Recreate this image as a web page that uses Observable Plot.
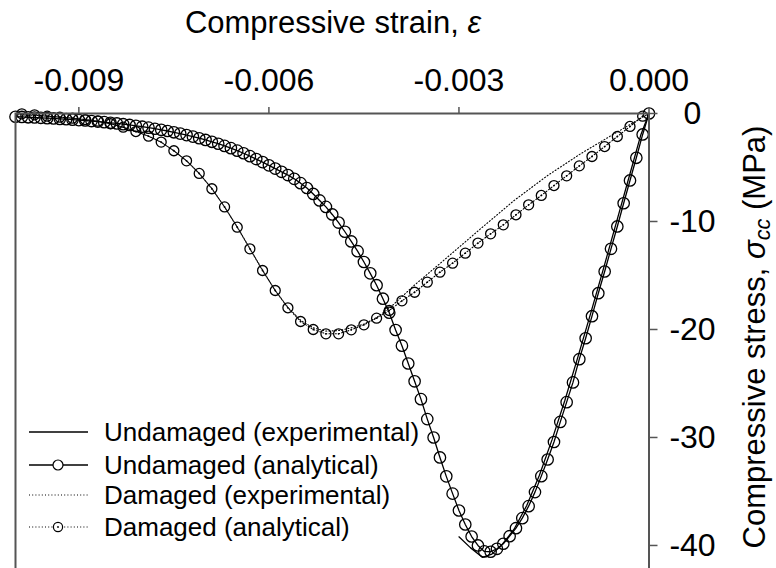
<!DOCTYPE html>
<html><head><meta charset="utf-8">
<script src="https://cdn.jsdelivr.net/npm/d3@7"></script>
<script src="https://cdn.jsdelivr.net/npm/@observablehq/plot@0.6"></script>
<style>html,body{margin:0;padding:0;overflow:hidden;background:#fff;width:776px;height:568px}</style>
</head><body><div id="chart"></div>
<script>
// strain values in units of 1e-4
const undAnaStrain = [0,-1,-2,-3,-4,-5,-6,-7,-8,-9,-10,-11,-12,-13,-14,-15,-16,-17,-18,-19,-20,-21,-22,-23,-24,-25,-26,-27,-28,-29,-30,-31,-32,-33,-34,-35,-36,-37,-38,-39,-40,-41,-42,-43,-44,-45,-46,-47,-48,-49,-50,-51,-52,-53,-54,-55,-56,-57,-58,-59,-60,-61,-62,-63,-64,-65,-66,-67,-68,-69,-70,-71,-72,-73,-74,-75,-76,-77,-78,-79,-80,-81,-82,-83,-84,-85,-86,-87,-88,-89,-90,-91,-92,-93,-94,-95,-96,-97,-98,-99,-100];
const undAnaStress = [0,-1.94,-4.10,-6.20,-8.31,-10.46,-12.53,-14.63,-16.64,-18.77,-20.81,-22.75,-24.90,-26.73,-28.56,-30.42,-32.04,-33.58,-35.06,-36.36,-37.47,-38.40,-39.14,-39.84,-40.31,-40.58,-40.55,-40.00,-39.17,-38.06,-36.76,-35.20,-33.60,-31.85,-30.00,-28.30,-26.45,-24.80,-23.15,-21.50,-20.05,-18.45,-17.15,-15.90,-14.80,-13.75,-12.75,-11.85,-10.95,-10.10,-9.35,-8.65,-8.05,-7.45,-6.90,-6.45,-6.05,-5.70,-5.40,-5.10,-4.80,-4.50,-4.22,-3.95,-3.68,-3.44,-3.21,-3.00,-2.80,-2.62,-2.45,-2.29,-2.14,-2.00,-1.86,-1.74,-1.62,-1.51,-1.41,-1.31,-1.22,-1.14,-1.06,-0.99,-0.92,-0.86,-0.80,-0.75,-0.70,-0.65,-0.61,-0.57,-0.53,-0.50,-0.46,-0.43,-0.40,-0.37,-0.35,-0.32,-0.30];

const undExpStrain = [0,-1.3,-3.3,-5.3,-7.3,-9.3,-11.3,-13.3,-15.3,-17.3,-19.3,-21.3,-23.3,-24.8,-26.3,-28.2,-30.0];
const undExpStress = [0,-2.0,-6.2,-10.4,-14.6,-18.7,-22.7,-26.6,-30.2,-33.5,-36.3,-38.5,-40.0,-40.8,-41.1,-40.2,-39.2];

const damAnaStrain = [-1,-3,-5,-7,-9,-11,-13,-15,-17,-19,-21,-23,-25,-27,-29,-31,-33,-35,-37,-39,-41,-43,-45,-47,-49,-51,-53,-55,-57,-59,-61,-63,-65,-67,-69,-71,-73,-75,-77,-79,-81,-83,-85,-87,-89,-91,-93,-95,-97,-99];
const damAnaStress = [-0.25,-1.20,-2.13,-3.06,-3.98,-4.85,-5.77,-6.67,-7.59,-8.46,-9.38,-10.31,-11.14,-12.00,-12.93,-13.86,-14.69,-15.62,-16.55,-17.35,-18.24,-18.95,-19.57,-20.03,-20.40,-20.40,-20.00,-19.26,-17.99,-16.39,-14.54,-12.53,-10.53,-8.65,-6.97,-5.55,-4.38,-3.45,-2.65,-2.10,-1.67,-1.27,-0.95,-0.71,-0.56,-0.43,-0.34,-0.25,-0.12,-0.03];

const damExpStrain = [0,-5.5,-10.8,-16.0,-21.3,-26.6,-31.8,-37.1,-40.8,-43,-45,-47,-49,-51,-53,-55,-57,-59,-61,-63,-65,-67,-69,-71,-73,-75,-77,-79,-81,-83,-85,-88,-92,-96,-100];
const damExpStress = [0,-1.88,-3.73,-5.74,-8.06,-10.68,-13.30,-15.93,-17.94,-18.90,-19.50,-19.85,-20.10,-20.15,-19.85,-19.15,-17.95,-16.40,-14.50,-12.50,-10.50,-8.65,-6.95,-5.55,-4.38,-3.45,-2.67,-2.10,-1.65,-1.27,-0.95,-0.62,-0.38,-0.20,-0.10];

const xTicks = [-0.009,-0.006,-0.003,0];
const yTicks = [0,-10,-20,-30,-40];
const legendLabels = ["Undamaged (experimental)","Undamaged (analytical)","Damaged (experimental)","Damaged (analytical)"];

const toRows = (xs, ys) => xs.map((x, i) => ({strain: x * 1e-4, stress: ys[i]}));
const undAna = toRows(undAnaStrain, undAnaStress);
const undExp = toRows(undExpStrain, undExpStress);
const damAna = toRows(damAnaStrain, damAnaStress);
const damExp = toRows(damExpStrain, damExpStress);

const FONT = "'Liberation Sans', Arial, Helvetica, sans-serif";

const plot = Plot.plot({
  width: 776, height: 600,
  marginLeft: 15, marginRight: 127.5, marginTop: 113, marginBottom: 10,
  style: {fontFamily: FONT, background: "white", overflow: "visible"},
  x: {domain: [-0.010, 0]},
  y: {domain: [-44.17, 0]},
  marks: [
    Plot.line(undExp, {x: "strain", y: "stress", stroke: "black", strokeWidth: 1.3}),
    Plot.line(undAna, {x: "strain", y: "stress", stroke: "black", strokeWidth: 1.3}),
    Plot.dot(undAna, {x: "strain", y: "stress", r: 5.7, stroke: "black", strokeWidth: 1.3, fill: "none"}),
    Plot.line(damExp, {x: "strain", y: "stress", stroke: "black", strokeWidth: 1.1, strokeDasharray: "1,2.2"}),
    Plot.line(damAna, {x: "strain", y: "stress", stroke: "black", strokeWidth: 1.1, strokeDasharray: "1,2.2"}),
    Plot.dot(damAna, {x: "strain", y: "stress", r: 5, stroke: "black", strokeWidth: 1.3, fill: "none"}),
    Plot.dot(damAna, {x: "strain", y: "stress", r: 0.9, fill: "black", stroke: "none"}),
    Plot.frame({stroke: "#555", strokeWidth: 2}),
    Plot.axisX({anchor: "top", ticks: xTicks, tickFormat: d => d.toFixed(3), tickSize: 7, tickPadding: 16, fontSize: 32, stroke: "#555", strokeWidth: 1.5, fill: "black", label: null}),
    Plot.axisY({anchor: "right", ticks: yTicks, tickFormat: d => String(d), tickSize: 8, tickPadding: 35.5, textAnchor: "middle", fontSize: 32, stroke: "#555", strokeWidth: 1.5, fill: "black", label: null})
  ]
});
document.getElementById("chart").appendChild(plot);

const svg = d3.select(plot);
// top axis title
const t1 = svg.append("text").attr("x", 333).attr("y", 33).attr("text-anchor", "middle")
  .attr("font-size", 31).attr("font-family", FONT).attr("fill", "black");
t1.append("tspan").text("Compressive strain, ");
t1.append("tspan").attr("font-style", "italic").text("ε");

// right axis title
const t2 = svg.append("text").attr("transform", "translate(765,337) rotate(-90)").attr("text-anchor", "middle")
  .attr("font-size", 31).attr("font-family", FONT).attr("fill", "black");
t2.append("tspan").text("Compressive stress, ");
t2.append("tspan").attr("font-style", "italic").text("σ");
t2.append("tspan").attr("font-style", "italic").attr("font-size", "0.7em").attr("dy", "0.25em").text("cc");
t2.append("tspan").attr("dy", "-0.175em").text(" (MPa)");

// legend
const rowsY = [432, 465, 495, 527];
const lg = svg.append("g").attr("font-family", FONT).attr("font-size", 26).attr("fill", "black").attr("text-anchor", "start");
legendLabels.forEach((lab, i) => {
  const y = rowsY[i];
  const dotted = i >= 2;
  lg.append("line").attr("x1", 29).attr("x2", 88).attr("y1", y).attr("y2", y)
    .attr("stroke", "black").attr("stroke-width", dotted ? 1.1 : 1.3)
    .attr("stroke-dasharray", dotted ? "1,2.2" : null);
  if (i === 1 || i === 3) {
    lg.append("circle").attr("cx", 58).attr("cy", y).attr("r", i === 1 ? 5 : 4.6)
      .attr("fill", "white").attr("stroke", "black").attr("stroke-width", 1.2);
    if (i === 3) lg.append("circle").attr("cx", 58).attr("cy", y).attr("r", 0.9).attr("fill", "black");
  }
  lg.append("text").attr("x", 104).attr("y", y + 9).attr("text-anchor", "start").text(lab);
});
</script></body></html>
